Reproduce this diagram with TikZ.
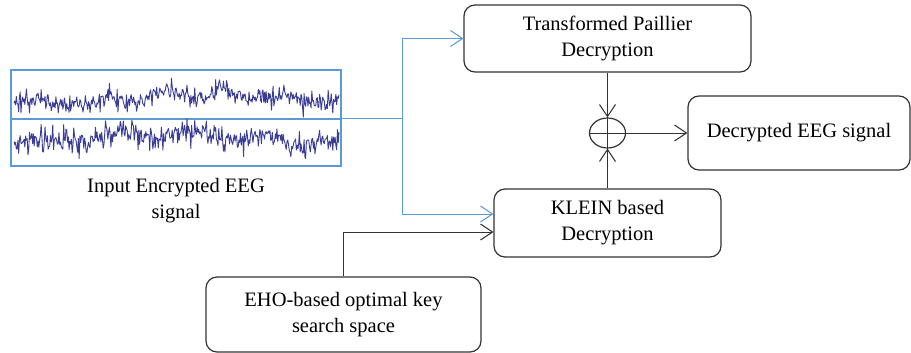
\documentclass[tikz,border=0pt]{standalone}
\usepackage{fontspec}
\setmainfont{Liberation Serif}
\usetikzlibrary{arrows.meta,shapes.geometric}
\definecolor{linegray}{HTML}{333333}
\definecolor{flowblue}{HTML}{5B9BD5}
\definecolor{wave}{HTML}{3A3D98}
\tikzset{
  blockbox/.style={draw=linegray, line width=1.2pt, rounded corners=11pt,
    inner sep=0pt, align=center, font=\fontsize{20.5}{26}\selectfont},
  flow/.style={line width=1pt, -{Straight Barb[length=12pt,width=16pt,line width=1pt]}},
  bluelink/.style={flow, draw=flowblue},
  blacklink/.style={flow, draw=linegray},
  eegtrace/.style={draw=wave, line width=0.9pt, line join=round},
}
\begin{document}
\begin{tikzpicture}[x=1pt, y=-1pt]
  \useasboundingbox (0,0) rectangle (911,353);

  % input signal panel with two traces
  \node[draw=flowblue, line width=1.2pt, minimum width=330pt, minimum height=96pt,
        inner sep=0pt] (eeg) at (176,118) {};
  \draw[flowblue, line width=1.2pt] (11,119) -- (341,119);
  \pgfmathsetseed{4711}
  \draw[eegtrace] plot[domain=14:339, samples=420]
    (\x, {98 + 3*sin(6*\x) + 4*sin(1.3*\x) + 5*rand + 13*rand*abs(rand)});
  \draw[eegtrace] plot[domain=14:339, samples=420]
    (\x, {138 + 3*sin(5*\x+40) + 4*sin(1.1*\x+90) + 6*rand + 15*rand*abs(rand)});
  \node[align=center, font=\fontsize{20.5}{26}\selectfont] (eegcap) at (176,201)
    {Input Encrypted EEG\\signal};

  % processing blocks
  \node[blockbox, minimum width=287pt, minimum height=67pt] (tpd) at (607.5,38.5)
    {Transformed Paillier\\Decryption};
  \node[blockbox, minimum width=227pt, minimum height=68pt] (klein) at (607.5,223)
    {KLEIN based\\Decryption};
  \node[blockbox, minimum width=275pt, minimum height=75pt] (eho) at (343.5,314.5)
    {EHO-based optimal key\\search space};
  \node[blockbox, minimum width=222pt, minimum height=74pt] (out) at (799,133)
    {Decrypted EEG signal};

  % combining operator
  \node[draw=linegray, line width=1.2pt, ellipse, minimum width=36pt,
        minimum height=30pt, inner sep=0pt] (sum) at (607.5,133) {};
  \draw[linegray, line width=1pt] (sum.west) -- (sum.east) (sum.north) -- (sum.south);

  % connectors
  \coordinate (split) at (402,118);
  \draw[flowblue, line width=1pt] (eeg.east) -- (split);
  \draw[bluelink] (split) |- (tpd.west);
  \draw[bluelink] (split) |- ([yshift=9pt]klein.west);
  \draw[blacklink] (eho.north) |- ([yshift=-9pt]klein.west);
  \draw[blacklink] (tpd.south) -- (sum.north);
  \draw[blacklink] (klein.north) -- (sum.south);
  \draw[blacklink] (sum.east) -- (out.west);
\end{tikzpicture}
\end{document}
